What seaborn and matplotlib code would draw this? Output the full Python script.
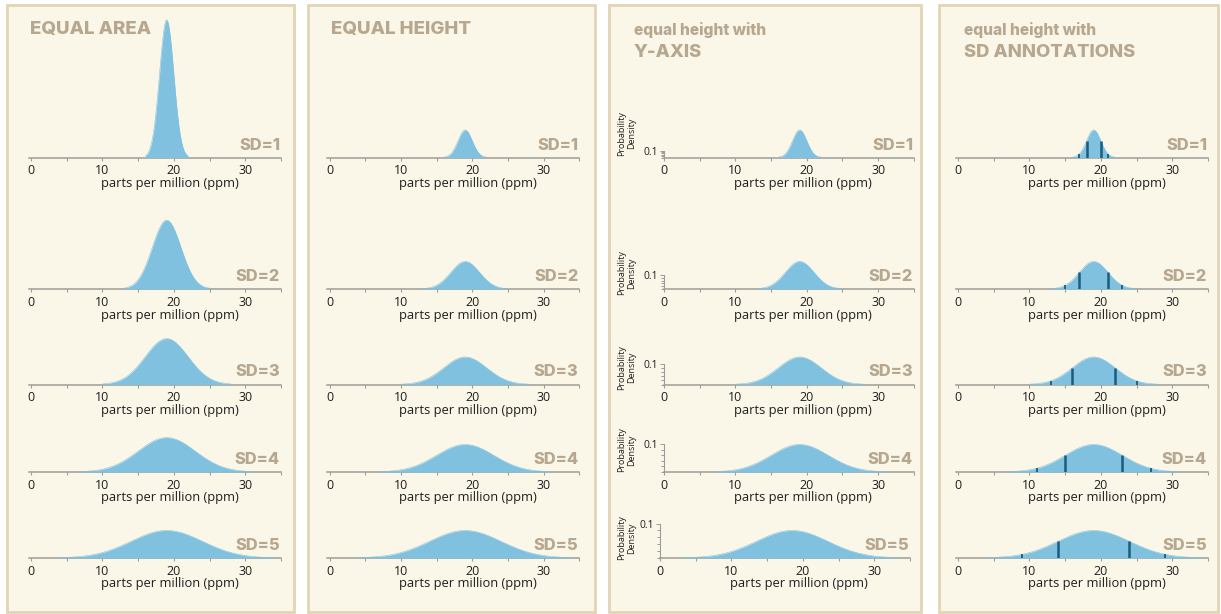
import numpy as np
import pandas as pd
import matplotlib
matplotlib.use("Agg")
import matplotlib.pyplot as plt
import seaborn as sns
from matplotlib.patches import Rectangle
from matplotlib.ticker import FixedLocator, NullFormatter, FormatStrFormatter

# ---- data ---------------------------------------------------------------
mean_ppm = 19.0
mean_ppm_yaxis_sd5 = 18.5          # the SD=5 curve in the y-axis panel sits slightly left
sd_values = [1, 2, 3, 4, 5]
sd_labels = ["SD=1", "SD=2", "SD=3", "SD=4", "SD=5"]
x_major_ticks = [0, 10, 20, 30]
x_minor_ticks = [5, 15, 25, 35]
x_axis_label = "parts per million (ppm)"
y_major_ticks = [0.1]
y_minor_ticks = [0.0, 0.02, 0.04, 0.06, 0.08]
y_axis_label = "Probability\nDensity"
panel_kickers = ["", "", "equal height with", "equal height with"]
panel_titles = ["EQUAL AREA", "EQUAL HEIGHT", "Y-AXIS", "SD ANNOTATIONS"]
sd_marks = [-2, -1, 1, 2]

# ---- style --------------------------------------------------------------
W, H = 1221, 614
FILL = "#7fc1df"
DARK = "#1a5b80"
AXIS = "#9d9d97"
TAN = "#b7a78f"
PANEL_BG = "#faf7e9"
PANEL_EDGE = "#e1d5b5"
TEXT = "#1e1e1e"

sns.set_theme(style="white")
plt.rcParams["font.family"] = ["Open Sans", "DejaVu Sans"]
TITLE_FONT = ["Inter", "DejaVu Sans"]

fig = plt.figure(figsize=(W / 100, H / 100), dpi=100, facecolor="white")


def fx(px):
    return px / W


def fy(py):
    return 1 - py / H


# panel boxes (left, top, right, bottom in pixels)
panels = [(7, 5, 294, 612), (308, 5, 595, 612), (609, 5, 921, 612), (939, 5, 1218, 612)]
for (l, t, r, b) in panels:
    fig.patches.append(Rectangle((fx(l), fy(b)), fx(r) - fx(l), fy(t) - fy(b),
                                 transform=fig.transFigure, facecolor=PANEL_BG,
                                 edgecolor=PANEL_EDGE, linewidth=2, zorder=-10))

# headings
for i, (l, t, r, b) in enumerate(panels):
    tx = l + 22
    if panel_kickers[i]:
        fig.text(fx(tx + 3), fy(35), panel_kickers[i], fontsize=11.2, fontweight=800,
                 color=TAN, family=TITLE_FONT, va="baseline", ha="left")
        fig.text(fx(tx + 3), fy(57), panel_titles[i], fontsize=13.3, fontweight=800,
                 color=TAN, family=TITLE_FONT, va="baseline", ha="left")
    else:
        fig.text(fx(tx + 1), fy(34), panel_titles[i], fontsize=13.5, fontweight=800,
                 color=TAN, family=TITLE_FONT, va="baseline", ha="left")

# row baselines (pixels from top)
baselines = [157.5, 289, 384.5, 472, 558]
# vertical centre of the y-axis caption above each baseline (pixels)
ylabel_rise = [24, 16, 17, 22, 20]
# pixel x of data value 0 in each panel
x_zero = [31, 329.5, 664, 958]
px_per_unit = 7.14
AX_H = 145  # axes height in pixels
XLABEL_CENTER = 19.4  # data position the axis caption is centred on


def pdf(x, mu, sd):
    return np.exp(-0.5 * ((x - mu) / sd) ** 2) / (sd * np.sqrt(2 * np.pi))


for p in range(4):
    for r, sd in enumerate(sd_values):
        mu = mean_ppm
        x0 = x_zero[p]
        xlim = (-0.3, 35.0)
        if p == 2:
            xlim = (0.0, 35.0)
            if sd == 5:
                x0 = 660
                mu = mean_ppm_yaxis_sd5
        # vertical scale: px per density unit
        k = 345.0 if (p == 0 or (p == 2 and sd == 5)) else 69.0 * sd
        left = x0 + xlim[0] * px_per_unit
        width = (xlim[1] - xlim[0]) * px_per_unit
        ax = fig.add_axes([fx(left), fy(baselines[r]), width / W, AX_H / H])
        ax.set_facecolor("none")
        ax.patch.set_alpha(0)

        xs = np.linspace(mu - 3 * sd, mu + 3 * sd, 400)
        df = pd.DataFrame({"ppm": xs, "density": pdf(xs, mu, sd)})
        ax.fill_between(df["ppm"], 0, df["density"], color=FILL, linewidth=0, zorder=2)
        sns.lineplot(data=df, x="ppm", y="density", ax=ax, color=FILL, linewidth=0.4, zorder=2)

        if p == 3:
            for m in sd_marks:
                xv = mu + m * sd
                ax.plot([xv, xv], [0, pdf(xv, mu, sd)], color=DARK,
                        linewidth=1.8 if abs(m) == 1 else 1.3, zorder=3,
                        solid_capstyle="butt")

        ax.set_xlim(*xlim)
        ax.set_ylim(0, AX_H / k)
        for s in ["top", "right"]:
            ax.spines[s].set_visible(False)
        ax.spines["bottom"].set_color(AXIS)
        ax.spines["bottom"].set_linewidth(1.1)
        ax.spines["bottom"].set_zorder(1)

        ax.xaxis.set_major_locator(FixedLocator(x_major_ticks))
        ax.xaxis.set_minor_locator(FixedLocator(x_minor_ticks))
        ax.xaxis.set_minor_formatter(NullFormatter())
        ax.tick_params(axis="x", which="both", direction="out", length=2.5, width=0.8,
                       color=AXIS, labelsize=9, labelcolor=TEXT, pad=2.5, bottom=True)
        ax.set_xlabel(x_axis_label, fontsize=9.3, color=TEXT)
        ax.xaxis.set_label_coords((XLABEL_CENTER - xlim[0]) / (xlim[1] - xlim[0]),
                                  -19.5 / AX_H)

        if p == 2:
            ax.spines["left"].set_visible(True)
            ax.spines["left"].set_color(AXIS)
            ax.spines["left"].set_linewidth(0.8)
            ax.spines["left"].set_bounds(0, y_major_ticks[-1])
            ax.yaxis.set_major_locator(FixedLocator(y_major_ticks))
            ax.yaxis.set_minor_locator(FixedLocator(y_minor_ticks))
            ax.yaxis.set_major_formatter(FormatStrFormatter("%.1f"))
            ax.tick_params(axis="y", which="major", direction="out", length=3, width=0.7,
                           color=AXIS, labelsize=7.4, labelcolor=TEXT, pad=1, left=True)
            ax.tick_params(axis="y", which="minor", direction="out", length=2.5, width=0.7,
                           color=AXIS, left=True)
            ax.set_ylabel("")
            fig.text(fx(627), fy(baselines[r] - ylabel_rise[r]), y_axis_label, rotation=90,
                     fontsize=6.5, color=TEXT, ha="center", va="center",
                     linespacing=1.15)
        else:
            ax.spines["left"].set_visible(False)
            ax.set_yticks([])
            ax.set_ylabel("")

        ax.annotate(sd_labels[r], xy=(1, 0), xycoords="axes fraction",
                    xytext=(-1, 8), textcoords="offset pixels", ha="right",
                    va="baseline", fontsize=11.8, fontweight=800, color=TAN,
                    family=TITLE_FONT)

fig.savefig("out.png", dpi=100, facecolor="white")
